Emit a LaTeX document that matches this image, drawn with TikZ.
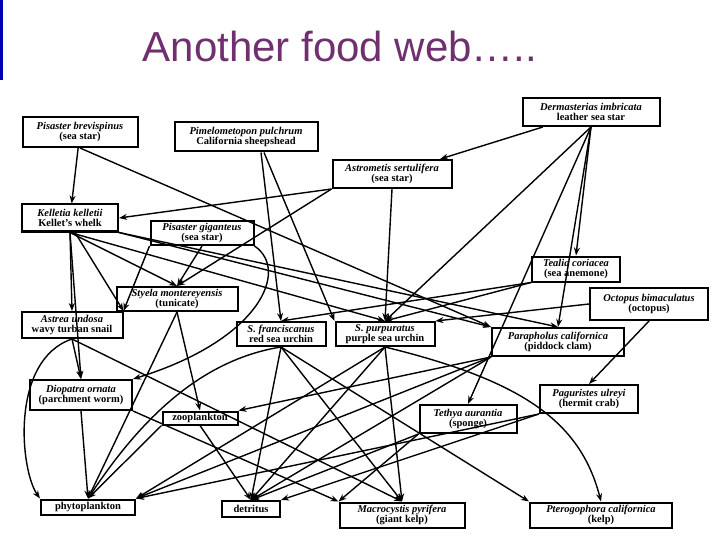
\documentclass[tikz,border=0pt]{standalone}
\usepackage{fontspec}
\setmainfont{Liberation Serif}
\newfontfamily\titlefont{Liberation Sans}
\usetikzlibrary{arrows.meta}
\definecolor{titlepurple}{RGB}{112,48,112}
\begin{document}
\begin{tikzpicture}[x=1pt,y=-1pt,
  sp/.style={draw,line width=2pt,inner sep=0.5pt,align=center,font=\fontsize{10.5}{10.5}\selectfont\bfseries},
  e/.style={line width=1.4pt,-{Stealth[length=8pt,width=6pt]}}]
\useasboundingbox (0,0) rectangle (720,540);
\fill[blue!70!black] (0,0) rectangle (3,80);
\node[text=titlepurple,font=\titlefont\fontsize{42}{44}\selectfont] (title) at (340,46) {Another food web\dots..};
\node[sp,minimum width=115,minimum height=30] (PB) at (80,132) {\textit{Pisaster brevispinus}\\(sea star)};
\node[sp,minimum width=143,minimum height=29] (PP) at (246,137) {\textit{Pimelometopon pulchrum}\\California sheepshead};
\node[sp,minimum width=119,minimum height=28] (AS) at (392,174) {\textit{Astrometis sertulifera}\\(sea star)};
\node[sp,minimum width=137,minimum height=28] (DI) at (591,112) {\textit{Dermasterias imbricata}\\leather sea star};
\node[sp,minimum width=96,minimum height=27] (KK) at (70,218) {\textit{Kelletia kelletii}\\Kellet's whelk};
\node[sp,minimum width=103,minimum height=24] (PG) at (202,233) {\textit{Pisaster giganteus}\\(sea star)};
\node[sp,minimum width=121,minimum height=24] (SM) at (177,299) {\textit{Styela montereyensis}\\(tunicate)};
\node[sp,minimum width=88,minimum height=25] (TC) at (576,269) {\textit{Tealia coriacea}\\(sea anemone)};
\node[sp,minimum width=118,minimum height=32] (OB) at (649,304) {\textit{Octopus bimaculatus}\\(octopus)};
\node[sp,minimum width=101,minimum height=26] (AU) at (72,325) {\textit{Astrea undosa}\\wavy turban snail};
\node[sp,minimum width=89,minimum height=24] (SF) at (281,334) {\textit{S. franciscanus}\\red sea urchin};
\node[sp,minimum width=99,minimum height=24] (SP) at (385,334) {\textit{S. purpuratus}\\purple sea urchin};
\node[sp,minimum width=132,minimum height=28] (PC) at (558,342) {\textit{Parapholus californica}\\(piddock clam)};
\node[sp,minimum width=102,minimum height=30] (DO) at (81,395) {\textit{Diopatra ornata}\\(parchment worm)};
\node[sp,minimum width=75,minimum height=13] (ZO) at (200,418) {zooplankton};
\node[sp,minimum width=98,minimum height=28] (PU) at (589,399) {\textit{Paguristes ulreyi}\\(hermit crab)};
\node[sp,minimum width=97,minimum height=28] (TA) at (468,419) {\textit{Tethya aurantia}\\(sponge)};
\node[sp,minimum width=94,minimum height=15] (PH) at (88,507) {phytoplankton};
\node[sp,minimum width=58,minimum height=16] (DE) at (251,509) {detritus};
\node[sp,minimum width=125,minimum height=25] (MP) at (402,515) {\textit{Macrocystis pyrifera}\\(giant kelp)};
\node[sp,minimum width=142,minimum height=25] (PT) at (601,515) {\textit{Pterogophora californica}\\(kelp)};
% edges
\draw[e] (PB) -- (KK);
\draw[e] (PB.south) -- (PC.north west);
\draw[e] (PP.south) ++(15,0) -- (SF.north);
\draw[e] (PP.south) ++(18,0) -- (SP.north west);
\draw[e] (DI) -- (AS);
\draw[e] (DI.south) -- (TC.north);
\draw[e] (DI.south) -- (SP.north);
\draw[e] (DI.south) -- (TA.north);
\draw[e] (DI.south) -- (PC.north);
\draw[e] (AS.south west) -- (KK.east);
\draw[e] (AS.south west) -- (SM.north);
\draw[e] (AS.south) -- (SP.north);
\draw[e] (KK.south) -- (AU.north);
\draw[e] (KK.south) ++(5,0) -- (AU.north east);
\draw[e] (KK.south) -- (SM.north);
\draw[e] (KK.south) -- (SP.north);
\draw[e] (KK.south east) -- (PC.north);
\draw[e] (KK.south east) -- (PC.north west);
\draw[e] (KK.south) -- (DO.north);
\draw[e] (PG.south west) -- (AU.north east);
\draw[e] (PG.south) -- (SM.north);
\draw[e] (PG.south east) .. controls (290,270) and (260,340) .. (DO.north east);
\draw[e] (SM.south) -- (ZO.north);
\draw[e] (SM.south) -- (PH.north);
\draw[e] (TC.south west) -- (SP.north);
\draw[e] (TC.south west) -- (SF.north);
\draw[e] (OB.south) -- (PU.north);
\draw[e] (OB.west) -- (SP.north east);
\draw[e] (AU.south) -- (DO.north);
\draw[e] (AU.south) .. controls (10,360) and (20,470) .. (PH.north west);
\draw[e] (AU.south) -- (MP.north);
\draw[e] (DO.south) -- (PH.north);
\draw[e] (DO.south east) -- (MP.north west);
\draw[e] (SF.south) -- (DE.north);
\draw[e] (SF.south) .. controls (200,360) and (140,420) .. (PH.north);
\draw[e] (SF.south) -- (MP.north);
\draw[e] (SP.south) -- (DE.north);
\draw[e] (SP.south) -- (MP.north);
\draw[e] (SP.south) .. controls (520,380) and (580,420) .. (PT.north);
\draw[e] (SP.south) -- (PH.north east);
\draw[e] (SF.south) -- (PT.north west);
\draw[e] (PC.south west) -- (ZO.north east);
\draw[e] (PC.south west) -- (DE.north);
\draw[e] (PC.south west) -- (PH.north east);
\draw[e] (PU.south west) -- (DE.north east);
\draw[e] (PU.south west) -- (PH.north east);
\draw[e] (TA.south west) -- (DE.north);
\draw[e] (TA.south west) -- (MP.north west);
\draw[e] (ZO.south) -- (DE.north);
\draw[e] (ZO.south west) -- (PH.north);
\end{tikzpicture}
\end{document}
